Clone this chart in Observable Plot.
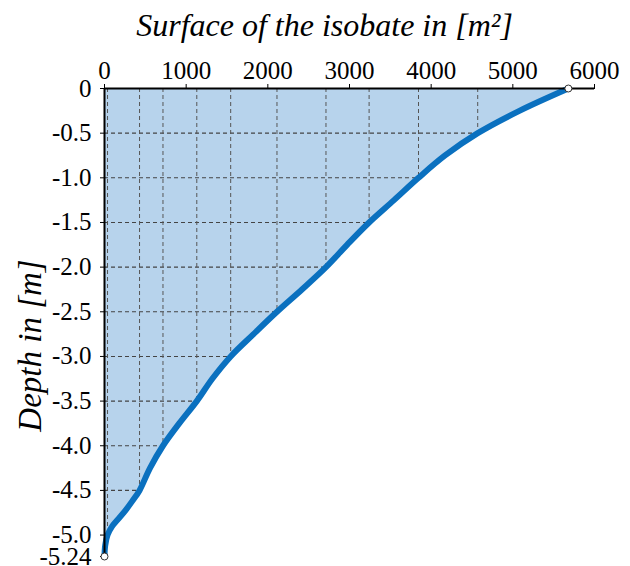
<!DOCTYPE html>
<html><head><meta charset="utf-8">
<script src="https://cdn.jsdelivr.net/npm/d3@7"></script>
<script src="https://cdn.jsdelivr.net/npm/@observablehq/plot@0.6"></script>
<style>body{margin:0;background:#fff}</style>
</head><body><div id="chart"></div>
<script>
// Hypsographic curve: depth [m] vs surface of the isobate [m²]
const depth   = [0, -0.25, -0.5, -0.75, -1.0, -1.25, -1.5, -1.75, -2.0, -2.25, -2.5, -2.75, -3.0, -3.25, -3.5, -3.75, -4.0, -4.25, -4.5, -4.62, -4.75, -4.9, -5.0, -5.12, -5.24];
const surface = [5680, 5080, 4570, 4170, 3845, 3545, 3240, 2970, 2712, 2418, 2112, 1825, 1545, 1320, 1130, 915, 716, 557, 429, 340, 235, 95, 37, 8, 0];

// isobate grid (depth levels and their surfaces)
const gridDepth   = [-0.5, -1.0, -1.5, -2.0, -2.5, -3.0, -3.5, -4.0, -4.5, -5.0];
const gridSurface = [4570, 3845, 3240, 2712, 2112, 1545, 1130, 716, 429, 37];

const surfaceTicks = [0, 1000, 2000, 3000, 4000, 5000, 6000];
const depthTicks = [0, -0.5, -1.0, -1.5, -2.0, -2.5, -3.0, -3.5, -4.0, -4.5, -5.0, -5.24];

const xTitle = "Surface of the isobate in [m²]";
const yTitle = "Depth in [m]";

const curveData = depth.map((d, i) => ({depth: d, surface: surface[i]}));
const grid = gridDepth.map((d, i) => ({depth: d, surface: gridSurface[i]}));
const ends = [curveData[0], curveData[curveData.length - 1]];

const fmtY = d => d === 0 ? "0" : (Math.round(d * 100) % 10 !== 0 ? d.toFixed(2) : d.toFixed(1));

const chart = Plot.plot({
  width: 630, height: 566,
  marginTop: 88, marginLeft: 104, marginRight: 36, marginBottom: 10,
  style: {fontFamily: "'Liberation Serif', serif", fontSize: "25px", background: "white", overflow: "visible"},
  x: {domain: [0, 6000]},
  y: {domain: [-5.24, 0]},
  marks: [
    Plot.areaX(curveData, {y: "depth", x1: 0, x2: "surface", fill: "#b7d3ec", curve: "catmull-rom"}),
    Plot.ruleY(grid, {y: "depth", x1: 0, x2: "surface", stroke: "#444", strokeDasharray: "4,3", strokeWidth: 1.1}),
    Plot.ruleX(grid, {x: "surface", y1: 0, y2: "depth", stroke: "#555", strokeDasharray: "4,3", strokeWidth: 1}),
    Plot.line(curveData, {x: "surface", y: "depth", stroke: "#0a70bf", strokeWidth: 6, curve: "catmull-rom"}),
    Plot.ruleX([0], {y1: -5.24, y2: 0, stroke: "black", strokeWidth: 2}),
    Plot.ruleY([0], {x1: 0, x2: 6000, stroke: "black", strokeWidth: 2}),
    Plot.axisX({anchor: "top", ticks: surfaceTicks, tickFormat: d => String(d), tickSize: 5, tickPadding: 5, label: null}),
    Plot.axisY({anchor: "left", ticks: depthTicks, tickFormat: fmtY, tickSize: 4, tickPadding: 9, label: null}),
    Plot.dot(ends, {x: "surface", y: "depth", r: 3.5, fill: "white", stroke: "#333", strokeWidth: 1}),
    Plot.text([xTitle], {text: d => d, frameAnchor: "top", textAnchor: "middle", lineAnchor: "middle", dx: -25, dy: -63, fontSize: 32, fontStyle: "italic", letterSpacing: "-0.7px"}),
    Plot.text([yTitle], {text: d => d, frameAnchor: "left", textAnchor: "middle", lineAnchor: "middle", dx: -74, dy: 23, rotate: -90, fontSize: 33, fontStyle: "italic"})
  ]
});
document.getElementById("chart").appendChild(chart);
</script>
</body></html>
